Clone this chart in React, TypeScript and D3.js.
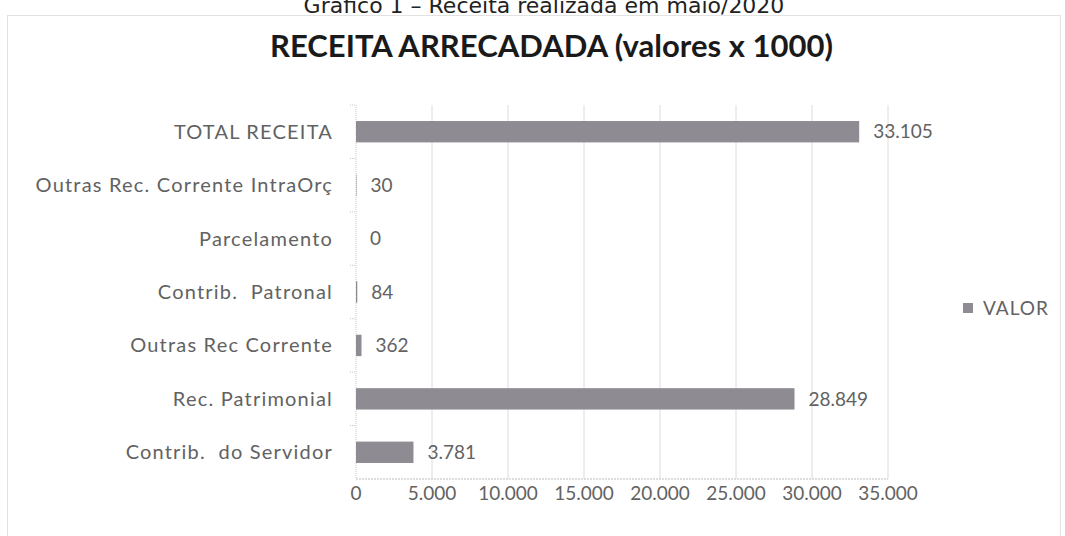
import React from "react";
import * as d3 from "d3";

const categories = [
  "TOTAL RECEITA",
  "Outras Rec. Corrente IntraOrç",
  "Parcelamento",
  "Contrib.  Patronal",
  "Outras Rec Corrente",
  "Rec. Patrimonial",
  "Contrib.  do Servidor",
];
const values = [33105, 30, 0, 84, 362, 28849, 3781];
const xTicks = [0, 5000, 10000, 15000, 20000, 25000, 30000, 35000];
const seriesName = "VALOR";
const chartTitle = "RECEITA ARRECADADA (valores x 1000)";
const caption = "Gráfico 1 – Receita realizada em maio/2020";

const W = 1065;
const H = 536;
const plot = { left: 356, right: 888, top: 105, bottom: 479 };
const barColor = "#8e8b93";
const textColor = "#626262";
const font = "Lato, 'Open Sans', sans-serif";

const br = d3.formatLocale({
  decimal: ",",
  thousands: ".",
  grouping: [3],
  currency: ["R$", ""],
});
const fmt = br.format(",d");

// keep the double spaces of the original labels
const keepSpaces = (s: string) => s.replace(/  /g, "\u00a0 ");

const App = () => {
  const x = d3.scaleLinear().domain([0, 35000]).range([plot.left, plot.right]);
  const y = d3
    .scaleBand()
    .domain(categories)
    .range([plot.top, plot.bottom])
    .padding(0);
  const barH = y.bandwidth() * 0.4;

  return (
    <svg
      width={W}
      height={H}
      style={{ position: "absolute", left: 0, top: 0, background: "#fff" }}
      fontFamily={font}
    >
      {/* caption above the chart, cropped by the page edge like in the scan */}
      <text
        x={544}
        y={13}
        textAnchor="middle"
        fontSize={22}
        fontFamily="'DejaVu Sans', sans-serif"
        fill="#222"
      >
        {caption}
      </text>

      {/* chart frame */}
      <rect x={7.5} y={15.5} width={1053} height={540} fill="none" stroke="#c4c4c4" strokeDasharray="1 1" />

      <text
        x={270}
        y={57}
        fontSize={30}
        fontWeight="bold"
        fill="#1a1a1a"
        textLength={563}
        lengthAdjust="spacingAndGlyphs"
      >
        {chartTitle}
      </text>

      {/* gridlines */}
      {xTicks.slice(1).map((t) => (
        <line key={t} x1={x(t)} x2={x(t)} y1={plot.top} y2={plot.bottom} stroke="#dcdcdc" />
      ))}

      {/* axes */}
      <line x1={plot.left} x2={plot.left} y1={plot.top} y2={plot.bottom} stroke="#c8c8c8" strokeDasharray="1 1" />
      <line x1={plot.left} x2={plot.right} y1={plot.bottom} y2={plot.bottom} stroke="#bdbdbd" strokeDasharray="2 1" />
      {categories.map((c) => (
        <line
          key={"t" + c}
          x1={plot.left - 6}
          x2={plot.left}
          y1={y(c)!}
          y2={y(c)!}
          stroke="#c8c8c8"
          strokeDasharray="1 1"
        />
      ))}

      {/* bars */}
      {categories.map((c, i) => {
        const cy = y(c)! + y.bandwidth() / 2;
        return (
          <g key={c}>
            <rect x={x(0)} y={cy - barH / 2} width={x(values[i]) - x(0)} height={barH} fill={barColor} />
            <text x={x(values[i]) + 14} y={cy} dy="0.35em" fontSize={19} fill={textColor}>
              {fmt(values[i])}
            </text>
            <text
              x={333}
              y={cy}
              dy="0.35em"
              textAnchor="end"
              fontSize={20}
              letterSpacing={1.2}
              fill={textColor}
            >
              {keepSpaces(c)}
            </text>
          </g>
        );
      })}

      {/* x tick labels */}
      {xTicks.map((t) => (
        <text key={"l" + t} x={x(t)} y={500} textAnchor="middle" fontSize={19} fill={textColor}>
          {fmt(t)}
        </text>
      ))}

      {/* legend */}
      <rect x={963} y={303} width={10} height={10} fill={barColor} />
      <text x={983} y={308} dy="0.35em" fontSize={19} letterSpacing={1} fill={textColor}>
        {seriesName}
      </text>
    </svg>
  );
};

export default App;
